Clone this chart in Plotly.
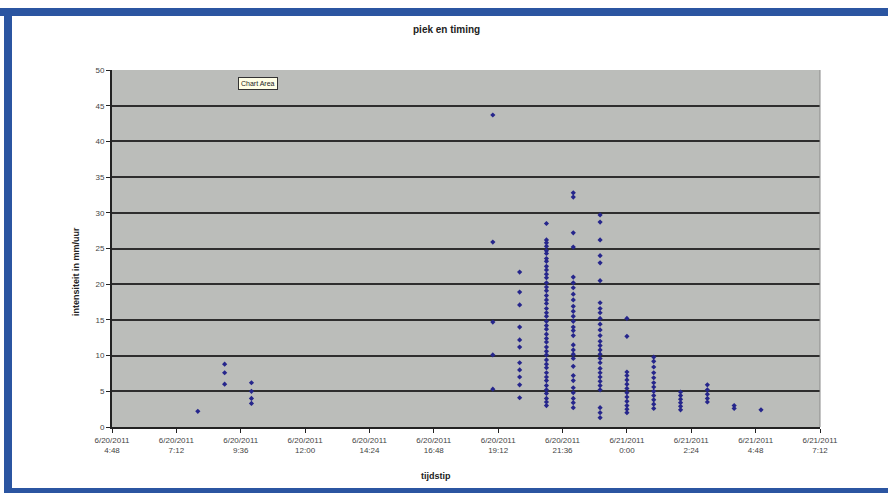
import plotly.graph_objects as go

# ---- data ----
hours = ["2011-06-20 08:00", "2011-06-20 09:00", "2011-06-20 10:00",
         "2011-06-20 19:00", "2011-06-20 20:00", "2011-06-20 21:00",
         "2011-06-20 22:00", "2011-06-20 23:00", "2011-06-21 00:00",
         "2011-06-21 01:00", "2011-06-21 02:00", "2011-06-21 03:00",
         "2011-06-21 04:00", "2011-06-21 05:00"]

v_0800 = [2.2]
v_0900 = [8.8, 7.6, 6.0]
v_1000 = [6.2, 5.0, 4.0, 3.3]
v_1900 = [43.7, 25.9, 14.7, 10.1, 5.3]
v_2000 = [21.7, 18.9, 17.1, 14.0, 12.2, 11.2, 9.0, 8.0, 7.0, 5.9, 4.1]
v_2100 = [28.5, 26.2, 25.8, 25.3, 24.7, 24.3, 23.6, 23.2, 22.5, 22.0, 21.4, 20.9,
          20.2, 19.6, 19.1, 18.4, 17.8, 17.3, 16.6, 16.0, 15.5, 14.8, 14.2, 13.7,
          13.0, 12.4, 11.9, 11.2, 10.6, 10.1, 9.4, 8.8, 8.3, 7.6, 7.0, 6.5, 5.8,
          5.2, 4.7, 4.0, 3.5, 3.0]
v_2200 = [32.8, 32.2, 27.2, 25.2, 21.0, 20.2, 19.5, 18.6, 17.8, 16.9, 16.2, 15.5,
          14.8, 14.0, 13.5, 12.8, 11.5, 10.8, 10.2, 9.6, 8.5, 7.2, 6.5, 5.5, 4.8,
          4.0, 3.4, 2.7]
v_2300 = [29.7, 28.7, 26.2, 24.0, 23.0, 20.5, 17.4, 16.6, 16.0, 15.2, 14.4, 13.6,
          12.8, 12.0, 11.4, 10.8, 10.2, 9.6, 9.0, 8.2, 7.6, 7.0, 6.4, 5.8, 5.2,
          2.7, 2.0, 1.3]
v_0000 = [15.2, 12.7, 7.7, 7.2, 6.6, 6.0, 5.4, 4.8, 4.2, 3.6, 3.0, 2.5, 2.0]
v_0100 = [9.8, 9.2, 8.4, 7.6, 6.9, 6.2, 5.6, 5.0, 4.4, 3.8, 3.2, 2.6]
v_0200 = [4.9, 4.4, 3.9, 3.4, 2.9, 2.4]
v_0300 = [5.9, 5.2, 4.6, 4.0, 3.5]
v_0400 = [3.0, 2.6]
v_0500 = [2.4]

groups = [v_0800, v_0900, v_1000, v_1900, v_2000, v_2100, v_2200, v_2300,
          v_0000, v_0100, v_0200, v_0300, v_0400, v_0500]

tick_times = ["2011-06-20 04:48", "2011-06-20 07:12", "2011-06-20 09:36",
              "2011-06-20 12:00", "2011-06-20 14:24", "2011-06-20 16:48",
              "2011-06-20 19:12", "2011-06-20 21:36", "2011-06-21 00:00",
              "2011-06-21 02:24", "2011-06-21 04:48", "2011-06-21 07:12"]
tick_labels = ["6/20/2011<br>4:48", "6/20/2011<br>7:12", "6/20/2011<br>9:36",
               "6/20/2011<br>12:00", "6/20/2011<br>14:24", "6/20/2011<br>16:48",
               "6/20/2011<br>19:12", "6/20/2011<br>21:36", "6/21/2011<br>0:00",
               "6/21/2011<br>2:24", "6/21/2011<br>4:48", "6/21/2011<br>7:12"]
y_ticks = [0, 5, 10, 15, 20, 25, 30, 35, 40, 45, 50]

xs, ys = [], []
for h, vals in zip(hours, groups):
    for v in vals:
        xs.append(h)
        ys.append(v)

FONT = "Liberation Sans, Arial, sans-serif"
BLUE = "#2B55A1"

fig = go.Figure()
fig.add_trace(go.Scatter(
    x=xs, y=ys, mode="markers",
    marker=dict(symbol="diamond", size=4, color="#26268C",
                line=dict(width=0)),
    showlegend=False))

fig.update_layout(
    width=888, height=493,
    margin=dict(l=112, r=68, t=70, b=66),
    paper_bgcolor="white",
    plot_bgcolor="#BBBDBA",
    font=dict(family=FONT, size=9, color="#3a3a3a"),
    xaxis=dict(type="date", range=[tick_times[0], tick_times[-1]],
               tickmode="array", tickvals=tick_times, ticktext=tick_labels,
               showgrid=False, zeroline=False,
               showline=True, linecolor="#222", linewidth=2,
               ticks="outside", ticklen=4, tickcolor="#222",
               tickfont=dict(size=8, color="#444"), mirror=False),
    yaxis=dict(range=[0, 50], tickmode="array", tickvals=y_ticks,
               showgrid=True, gridcolor="#2e2e2e", gridwidth=1.5,
               zeroline=False, showline=True, linecolor="#222", linewidth=2,
               ticks="outside", ticklen=4, tickcolor="#222",
               tickfont=dict(size=8, color="#444")),
)

# right edge of plot area (thin border)
fig.add_shape(type="line", xref="paper", yref="paper", x0=1, x1=1, y0=0, y1=1,
              line=dict(color="#8a8a8a", width=1))


def px_x(p):
    return (p - 112) / 708.0


def px_y(p):
    return (427 - p) / 357.0


# titles
fig.add_annotation(text="<b>piek en timing</b>", xref="paper", yref="paper",
                   x=px_x(446), y=px_y(30), xanchor="center", yanchor="middle",
                   showarrow=False, font=dict(size=10, color="#222"))
fig.add_annotation(text="<b>intensiteit in mm/uur</b>", xref="paper", yref="paper",
                   x=px_x(76), y=px_y(272), xanchor="center", yanchor="middle",
                   textangle=-90, showarrow=False,
                   font=dict(size=9, color="#222"))
fig.add_annotation(text="<b>tijdstip</b>", xref="paper", yref="paper",
                   x=px_x(436), y=px_y(476), xanchor="center", yanchor="middle",
                   showarrow=False, font=dict(size=9, color="#222"))

# tooltip
fig.add_annotation(text="Chart Area", xref="paper", yref="paper",
                   x=px_x(258), y=px_y(83), xanchor="center", yanchor="middle",
                   showarrow=False,
                   font=dict(size=7, color="#222"), bgcolor="#FFFFE6",
                   bordercolor="#333", borderwidth=1, borderpad=2)

# blue frame (top, left, bottom)
fig.add_shape(type="rect", xref="paper", yref="paper",
              x0=px_x(0), x1=px_x(888), y0=px_y(16), y1=px_y(8),
              fillcolor=BLUE, line=dict(width=0), layer="above")
fig.add_shape(type="rect", xref="paper", yref="paper",
              x0=px_x(4), x1=px_x(12), y0=px_y(493), y1=px_y(8),
              fillcolor=BLUE, line=dict(width=0), layer="above")
fig.add_shape(type="rect", xref="paper", yref="paper",
              x0=px_x(4), x1=px_x(888), y0=px_y(493), y1=px_y(488),
              fillcolor=BLUE, line=dict(width=0), layer="above")

fig.write_html("out.html", config={"displayModeBar": False},
               post_script="document.body.style.margin='0';")
